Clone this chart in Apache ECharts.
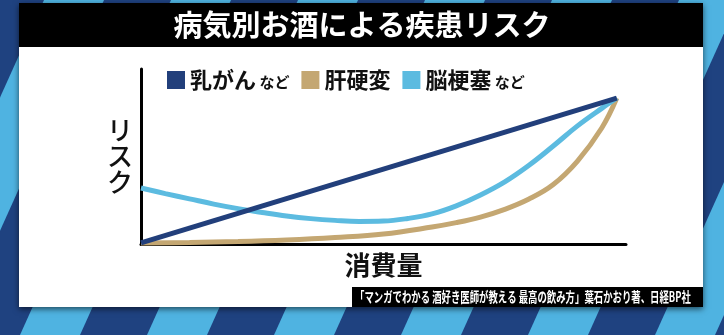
<!DOCTYPE html>
<html>
<head>
<meta charset="utf-8">
<script src="https://cdn.jsdelivr.net/npm/echarts@6/dist/echarts.min.js"></script>
<style>
html,body{margin:0;padding:0;background:#1f4280;}
#c{width:724px;height:335px;}
</style>
</head>
<body>
<div id="c"></div>
<script>
// ---- data ----
var titleText = '病気別お酒による疾患リスク';
var xAxisName = '消費量';
var yAxisName = 'リスク';
var sourceText = '「マンガでわかる 酒好き医師が教える 最高の飲み方」葉石かおり著、日経BP社';
var seriesNames = ['乳がん', '肝硬変', '脳梗塞'];
var legendSuffix = ['など', '', 'など'];
// [consumption, risk] in relative units (0-100)
var breastCancer = [[0, 0.6], [98.1, 83.4]];
var cirrhosis = [[0, 0.6], [10, 0.9], [20, 1.4], [30, 2.3], [40, 3.7], [50, 5.7], [60, 9.7], [65, 12.2], [70, 15.4], [75, 19.8], [80, 25.7], [85, 34], [90, 47.4], [95, 66.3], [98.1, 83.4]];
var stroke = [[0, 32], [5, 28.8], [10, 25.8], [15, 22.8], [20, 20.2], [25, 18], [30, 16], [35, 14.5], [40, 13.5], [45, 12.9], [50, 13.1], [55, 14.6], [60, 17.2], [65, 21.8], [70, 28], [75, 35.5], [80, 45], [85, 56], [90, 67.5], [95, 77.5], [98.1, 83.4]];
var colors = ['#223f7b', '#c4a772', '#5cbbe0'];

// ---- decoration: diagonal striped background ----
var graphics = [{type: 'rect', z: -10, shape: {x: 0, y: 0, width: 724, height: 335}, style: {fill: '#1f4280'}}];
for (var k = -3; k < 8; k++) {
  var x0 = 20 + 127 * k;
  graphics.push({type: 'polygon', z: -9, shape: {points: [[x0, 335], [x0 + 60, 335], [x0 + 211, 0], [x0 + 151, 0]]}, style: {fill: '#4fb3e1'}});
}
graphics.push({type: 'rect', z: -8, shape: {x: 19, y: 3, width: 684, height: 304}, style: {fill: '#ffffff', shadowBlur: 6, shadowColor: 'rgba(0,0,0,0.6)', shadowOffsetY: 2}});
graphics.push({type: 'rect', z: -7, shape: {x: 19, y: 3, width: 684, height: 44}, style: {fill: '#000000'}});
graphics.push({type: 'rect', z: -7, shape: {x: 352, y: 287, width: 351, height: 20}, style: {fill: '#000000'}});
graphics.push({type: 'text', z: 10, x: 355, y: 297, scaleX: 0.67, style: {text: sourceText, fill: '#ffffff', font: 'bold 14px "Noto Sans CJK JP"', textAlign: 'left', textVerticalAlign: 'middle'}});

var chart = echarts.init(document.getElementById('c'));
var option = {
  animation: false,
  title: {
    text: titleText, left: 'center', top: 5,
    textStyle: {color: '#ffffff', fontSize: 29, fontWeight: 'bold', fontFamily: 'Noto Sans CJK JP'}
  },
  graphic: graphics,
  legend: {
    data: seriesNames,
    left: 162, top: 64,
    icon: 'rect', itemWidth: 18, itemHeight: 18, itemGap: 12,
    formatter: function (name) {
      var i = seriesNames.indexOf(name);
      return '{b|' + name + '}' + (legendSuffix[i] ? '{s| ' + legendSuffix[i] + '}' : '');
    },
    textStyle: {
      fontFamily: 'Noto Sans CJK JP', color: '#111',
      rich: {
        b: {fontSize: 22, fontWeight: 'bold', color: '#111', fontFamily: 'Noto Sans CJK JP'},
        s: {fontSize: 15, fontWeight: 'bold', color: '#111', fontFamily: 'Noto Sans CJK JP', padding: [4, 0, 0, 0]}
      }
    }
  },
  grid: {left: 141, right: 98, top: 69, bottom: 91},
  xAxis: {
    type: 'value', min: 0, max: 100,
    name: xAxisName, nameLocation: 'middle', nameGap: 8,
    nameTextStyle: {fontSize: 26, fontWeight: 'bold', color: '#111', fontFamily: 'Noto Sans CJK JP', verticalAlign: 'top'},
    axisLine: {show: true, lineStyle: {color: '#000', width: 3}},
    axisTick: {show: false}, axisLabel: {show: false}, splitLine: {show: false}
  },
  yAxis: {
    type: 'value', min: 0, max: 100,
    name: yAxisName.split('').join('\n'), nameLocation: 'middle', nameGap: 8, nameRotate: 0,
    nameTextStyle: {fontSize: 26, lineHeight: 26, color: '#111', fontWeight: 500, fontFamily: 'Noto Sans CJK JP', align: 'right', verticalAlign: 'middle'},
    axisLine: {show: true, lineStyle: {color: '#000', width: 3}},
    axisTick: {show: false}, axisLabel: {show: false}, splitLine: {show: false}
  },
  series: [
    {name: seriesNames[1], type: 'line', data: cirrhosis, smooth: 0.4, showSymbol: false, clip: false,
      color: colors[1], lineStyle: {width: 5, color: colors[1]}, itemStyle: {color: colors[1]}},
    {name: seriesNames[2], type: 'line', data: stroke, smooth: 0.4, showSymbol: false, clip: false,
      color: colors[2], lineStyle: {width: 5, color: colors[2]}, itemStyle: {color: colors[2]}},
    {name: seriesNames[0], type: 'line', data: breastCancer, showSymbol: false, clip: false,
      color: colors[0], lineStyle: {width: 5, color: colors[0]}, itemStyle: {color: colors[0]}}
  ]
};
chart.setOption(option);
</script>
</body>
</html>
